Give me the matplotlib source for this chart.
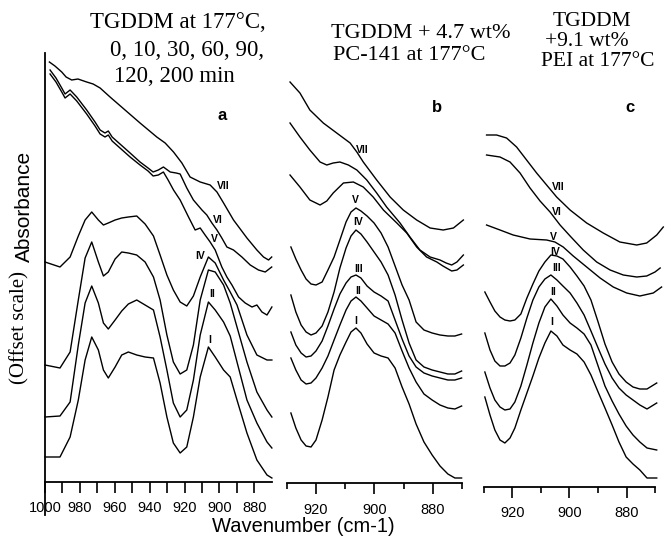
import matplotlib
matplotlib.use('Agg')
import matplotlib.pyplot as plt
from matplotlib.ticker import FixedLocator, NullFormatter

plt.rcParams['font.family'] = ['Liberation Sans', 'DejaVu Sans']

W, H = 665, 539

# ---- panel a : TGDDM at 177 C (offset absorbance) ----
a_wn = [1000.0, 991.4, 985.6, 980.9, 977.0, 973.2, 969.4, 966.5, 963.7, 959.8, 956.0,
        952.2, 947.4, 942.6, 937.8, 934.0, 930.1, 926.4, 922.5, 918.7, 914.9, 911.0,
        906.3, 902.4, 897.6, 893.8, 889.9, 884.2, 878.5, 872.7, 869.9]
a_I = [0.33, 0.33, 0.53, 0.90, 1.30, 1.53, 1.40, 1.20, 1.12, 1.23, 1.35, 1.38, 1.35, 1.33,
       1.32, 1.07, 0.73, 0.47, 0.37, 0.43, 0.73, 1.13, 1.43, 1.33, 1.20, 1.13, 0.90, 0.57,
       0.30, 0.15, 0.12]
a_II = [0.73, 0.74, 0.88, 1.45, 1.87, 2.04, 1.87, 1.67, 1.61, 1.70, 1.79, 1.86, 1.90, 1.85,
        1.80, 1.53, 1.20, 0.87, 0.73, 0.80, 1.10, 1.55, 1.88, 1.80, 1.68, 1.54, 1.28, 0.90,
        0.67, 0.48, 0.42]
a_III = [1.25, 1.22, 1.38, 1.90, 2.32, 2.48, 2.28, 2.14, 2.18, 2.31, 2.38, 2.37, 2.35, 2.28,
         2.13, 1.90, 1.55, 1.28, 1.16, 1.20, 1.45, 1.90, 2.20, 2.18, 2.05, 1.87, 1.63, 1.28,
         0.98, 0.80, 0.73]
a_IV = [2.28, 2.23, 2.33, 2.54, 2.70, 2.78, 2.70, 2.65, 2.67, 2.70, 2.72, 2.73, 2.74, 2.66,
        2.54, 2.35, 2.15, 2.00, 1.88, 1.84, 1.94, 2.13, 2.33, 2.27, 2.10, 1.98, 1.85, 1.55,
        1.35, 1.30, 1.30]

a_V_wn = [997.1, 993.7, 990.4, 988.5, 985.6, 981.8, 976.1, 971.3, 968.4, 965.6, 963.7, 961.5,
          957.0, 951.2, 945.5, 940.9, 938.0, 935.0, 932.1, 929.4, 926.3, 922.5, 917.7, 913.9,
          911.0, 908.2, 905.3, 902.4, 898.6, 895.7, 892.8, 889.0, 885.2, 881.3, 878.5, 875.6,
          872.7, 869.9]
a_V = [4.16, 4.08, 3.98, 3.92, 3.96, 3.89, 3.76, 3.64, 3.56, 3.53, 3.55, 3.49, 3.42, 3.33,
       3.25, 3.19, 3.14, 3.15, 3.18, 3.10, 3.00, 2.90, 2.73, 2.60, 2.62, 2.55, 2.48, 2.40,
       2.23, 2.13, 2.05, 1.93, 1.87, 1.83, 1.85, 1.78, 1.75, 1.83]

a_VI_wn = [997.1, 993.7, 990.4, 988.5, 985.6, 981.8, 976.1, 971.3, 968.4, 965.6, 963.7, 961.5,
           957.0, 951.2, 945.5, 940.9, 938.0, 935.0, 932.1, 928.2, 924.8, 922.5, 918.7, 914.9,
           910.0, 907.2, 904.3, 901.4, 898.6, 895.7, 891.9, 887.1, 882.3, 877.6, 873.7, 870.0]
a_VI = [4.20, 4.12, 4.02, 3.96, 4.00, 3.93, 3.80, 3.68, 3.60, 3.57, 3.59, 3.53, 3.46, 3.37,
        3.28, 3.22, 3.18, 3.20, 3.23, 3.18, 3.17, 3.16, 3.02, 2.90, 2.80, 2.75, 2.67, 2.60,
        2.52, 2.43, 2.40, 2.33, 2.25, 2.20, 2.18, 2.23]

a_VII_wn = [997.5, 994.3, 990.4, 987.9, 984.7, 981.1, 976.1, 972.4, 968.4, 962.7, 954.1, 945.5,
            935.9, 931.1, 926.3, 921.5, 916.8, 911.0, 905.3, 901.4, 897.6, 891.9, 884.2, 878.5,
            874.7, 871.8, 870.0]
a_VII = [4.28, 4.24, 4.18, 4.13, 4.10, 4.11, 4.08, 4.06, 4.02, 3.93, 3.80, 3.67, 3.53, 3.47,
         3.38, 3.27, 3.13, 3.08, 3.05, 2.98, 2.87, 2.70, 2.52, 2.40, 2.33, 2.30, 2.33]

# ---- panel b : TGDDM + 4.7 wt% PC-141 ----
b_wn = [928.6, 926.9, 925.1, 923.4, 921.7, 920.0, 917.9, 915.9, 913.8, 911.8, 909.7, 908.0,
        906.3, 904.6, 902.5, 900.1, 897.7, 895.3, 892.9, 890.5, 888.1, 885.7, 883.0, 880.2,
        877.5, 874.8, 872.4, 870.1]
b_I = [0.77, 0.62, 0.50, 0.44, 0.43, 0.50, 0.70, 0.93, 1.20, 1.35, 1.48, 1.58, 1.62, 1.57,
       1.46, 1.37, 1.34, 1.32, 1.22, 1.03, 0.86, 0.66, 0.48, 0.35, 0.24, 0.16, 0.12, 0.12]
b_II = [1.32, 1.20, 1.10, 1.06, 1.07, 1.12, 1.22, 1.34, 1.50, 1.65, 1.80, 1.89, 1.93, 1.89,
        1.82, 1.74, 1.70, 1.66, 1.57, 1.39, 1.22, 1.08, 0.96, 0.90, 0.85, 0.82, 0.81, 0.84]
b_III = [1.58, 1.45, 1.37, 1.33, 1.34, 1.39, 1.49, 1.64, 1.81, 1.96, 2.07, 2.13, 2.15, 2.12,
         2.04, 1.98, 1.94, 1.89, 1.70, 1.51, 1.34, 1.23, 1.17, 1.14, 1.12, 1.10, 1.10, 1.12]
b_IV = [1.95, 1.78, 1.65, 1.58, 1.55, 1.57, 1.64, 1.78, 1.98, 2.22, 2.42, 2.54, 2.60, 2.56,
        2.48, 2.38, 2.28, 2.15, 1.95, 1.70, 1.47, 1.30, 1.23, 1.20, 1.18, 1.16, 1.16, 1.19]
b_V = [2.43, 2.31, 2.20, 2.11, 2.06, 2.05, 2.08, 2.20, 2.33, 2.50, 2.68, 2.78, 2.82, 2.79,
       2.74, 2.67, 2.57, 2.43, 2.24, 2.05, 1.90, 1.68, 1.60, 1.57, 1.55, 1.54, 1.54, 1.56]

b_X_wn = [928.9, 925.5, 922.1, 918.6, 916.3, 914.1, 910.6, 907.2, 903.8, 900.4, 896.9, 892.3,
          888.9, 885.5, 882.1, 878.6, 876.5, 873.5, 871.7, 869.5]
b_X = [3.15, 3.03, 2.90, 2.85, 2.89, 2.97, 3.07, 3.08, 3.03, 2.93, 2.80, 2.67, 2.57, 2.43,
       2.33, 2.28, 2.24, 2.19, 2.20, 2.25]

b_VI_wn = [928.9, 925.5, 922.1, 918.6, 916.3, 914.1, 911.8, 908.9, 906.0, 902.6, 899.2, 895.8,
           891.2, 887.8, 884.4, 880.9, 877.5, 875.4, 873.5, 871.7, 869.5]
b_VI = [3.67, 3.53, 3.40, 3.28, 3.25, 3.27, 3.28, 3.25, 3.20, 3.10, 2.97, 2.83, 2.67, 2.53,
        2.40, 2.33, 2.30, 2.27, 2.25, 2.28, 2.35]

b_VII_wn = [928.9, 925.5, 922.1, 917.5, 912.9, 908.3, 906.0, 903.8, 899.2, 894.6, 890.1, 885.5,
            880.9, 876.4, 872.9, 869.5]
b_VII = [4.08, 3.97, 3.80, 3.67, 3.57, 3.47, 3.38, 3.28, 3.10, 2.93, 2.80, 2.70, 2.62, 2.60,
         2.62, 2.70]

# ---- panel c : TGDDM + 9.1 wt% PEI ----
c_wn = [929.6, 927.8, 926.1, 924.3, 922.6, 920.8, 919.1, 917.0, 914.9, 912.8, 910.7, 908.6,
        906.5, 904.4, 902.3, 899.8, 897.4, 894.9, 892.5, 890.0, 887.6, 885.1, 882.7, 880.2,
        877.8, 875.4, 872.9, 869.5]
c_I = [0.93, 0.75, 0.60, 0.50, 0.47, 0.52, 0.62, 0.80, 0.97, 1.14, 1.32, 1.47, 1.59, 1.54,
       1.45, 1.40, 1.36, 1.28, 1.15, 0.98, 0.82, 0.65, 0.48, 0.33, 0.26, 0.20, 0.12, 0.12]
c_II = [1.18, 1.02, 0.90, 0.83, 0.80, 0.81, 0.88, 1.04, 1.25, 1.47, 1.67, 1.83, 1.91, 1.84,
        1.75, 1.67, 1.62, 1.56, 1.45, 1.24, 1.04, 0.89, 0.76, 0.64, 0.55, 0.48, 0.42, 0.40]
c_III = [1.57, 1.40, 1.29, 1.24, 1.24, 1.27, 1.35, 1.52, 1.72, 1.90, 2.03, 2.11, 2.15, 2.10,
         2.04, 1.97, 1.87, 1.75, 1.59, 1.42, 1.26, 1.12, 1.02, 0.95, 0.90, 0.85, 0.81, 0.87]
c_IV = [1.98, 1.88, 1.79, 1.73, 1.70, 1.69, 1.70, 1.76, 1.92, 2.06, 2.19, 2.28, 2.35, 2.34,
        2.31, 2.23, 2.14, 2.04, 1.90, 1.68, 1.46, 1.28, 1.16, 1.08, 1.03, 1.01, 1.01, 1.07]

c_V_wn = [929.0, 924.3, 919.7, 913.8, 908.0, 905.1, 902.2, 898.7, 894.0, 889.3, 884.7, 880.0,
          875.4, 870.7, 867.8]
c_V = [2.65, 2.60, 2.55, 2.51, 2.50, 2.48, 2.43, 2.34, 2.23, 2.12, 2.03, 1.97, 1.94, 1.97, 2.03]

c_VI_wn = [929.0, 924.3, 920.8, 917.3, 913.8, 910.3, 906.8, 903.3, 899.8, 895.2, 890.5, 885.8,
           881.2, 876.5, 873.0, 870.1, 868.3]
c_VI = [3.35, 3.33, 3.28, 3.17, 3.02, 2.89, 2.78, 2.65, 2.54, 2.40, 2.28, 2.20, 2.15, 2.13,
        2.14, 2.18, 2.22]

c_VII_wn = [929.0, 925.5, 922.0, 918.5, 915.0, 911.5, 908.0, 904.5, 899.8, 894.0, 888.2, 882.4,
            876.5, 873.0, 869.5, 867.2]
c_VII = [3.55, 3.55, 3.52, 3.43, 3.30, 3.17, 3.05, 2.93, 2.80, 2.67, 2.57, 2.48, 2.45, 2.47,
         2.55, 2.63]

# curve labels (numeral, wavenumber, offset absorbance)
a_labels = [('VII', 897.8, 3.04), ('VI', 900.7, 2.70), ('V', 903.0, 2.51), ('IV', 911.0, 2.34),
            ('II', 904.0, 1.96), ('I', 905.6, 1.50)]
b_labels = [('VII', 904.3, 3.40), ('V', 906.4, 2.90), ('IV', 905.5, 2.68), ('III', 905.5, 2.21),
            ('II', 905.5, 1.99), ('I', 906.3, 1.69)]
c_labels = [('VII', 903.9, 3.03), ('VI', 904.4, 2.78), ('V', 905.7, 2.53), ('IV', 905.1, 2.38),
            ('III', 904.5, 2.22), ('II', 905.7, 1.98), ('I', 906.2, 1.68)]


def add_panel(fig, left, right, bottom, top=40):
    ax = fig.add_axes([left / W, (H - bottom) / H, (right - left) / W, (bottom - top) / H])
    ax.set_facecolor('none')
    for s in ['top', 'right', 'left']:
        ax.spines[s].set_visible(False)
    ax.spines['bottom'].set_linewidth(1.3)
    ax.set_yticks([])
    ax.set_ylim((490 - bottom) / 100, (490 - top) / 100)
    return ax


def draw(ax, xs, ys):
    ax.plot(xs, ys, color='black', lw=1.0, clip_on=False, solid_joinstyle='round')


def numerals(ax, labels):
    for txt, x, y in labels:
        ax.text(x, y, txt, ha='center', va='center', fontsize=7.5, fontweight='bold')


fig = plt.figure(figsize=(W / 100, H / 100), dpi=100)

# panel a
ax_a = add_panel(fig, 45, 271.7, 482)
ax_a.set_xlim(1000, 870)
for xs, ys in [(a_wn, a_I), (a_wn, a_II), (a_wn, a_III), (a_wn, a_IV),
               (a_V_wn, a_V), (a_VI_wn, a_VI), (a_VII_wn, a_VII)]:
    draw(ax_a, xs, ys)
numerals(ax_a, a_labels)
ax_a.spines['left'].set_visible(True)
ax_a.spines['left'].set_linewidth(1.3)
ax_a.spines['left'].set_bounds((490 - 482) / 100, (490 - 53) / 100)
ax_a.plot([0, 0], [-0.075, 0], transform=ax_a.transAxes, color='black', lw=1.3, clip_on=False)
ax_a.xaxis.set_major_locator(FixedLocator([1000, 980, 960, 940, 920, 900, 880]))
ax_a.xaxis.set_minor_locator(FixedLocator([990, 970, 950, 930, 910, 890]))
ax_a.tick_params(axis='x', which='both', direction='out', length=8, width=1.2, pad=6,
                 labelsize=10.5)

# panel b
ax_b = add_panel(fig, 286.8, 461.9, 483.3)
ax_b.set_xlim(930, 870)
for xs, ys in [(b_wn, b_I), (b_wn, b_II), (b_wn, b_III), (b_wn, b_IV), (b_wn, b_V),
               (b_X_wn, b_X), (b_VI_wn, b_VI), (b_VII_wn, b_VII)]:
    draw(ax_b, xs, ys)
numerals(ax_b, b_labels)

# panel c
ax_c = add_panel(fig, 483.7, 655.3, 486.7)
ax_c.set_xlim(930, 870)
for xs, ys in [(c_wn, c_I), (c_wn, c_II), (c_wn, c_III), (c_wn, c_IV),
               (c_V_wn, c_V), (c_VI_wn, c_VI), (c_VII_wn, c_VII)]:
    draw(ax_c, xs, ys)
numerals(ax_c, c_labels)

for ax in (ax_b, ax_c):
    ax.xaxis.set_major_locator(FixedLocator([920, 900, 880]))
    ax.xaxis.set_minor_locator(FixedLocator([930, 910, 890, 870]))
    ax.xaxis.set_minor_formatter(NullFormatter())
    ax.tick_params(axis='x', which='major', direction='out', length=8, width=1.2, pad=6,
                   labelsize=10.5)
    ax.tick_params(axis='x', which='minor', direction='out', length=4, width=1.2)


def px(x, y):
    return x / W, 1 - y / H


serif = 'Liberation Serif'
fig.text(*px(90, 23), 'TGDDM at 177°C,', family=serif, fontsize=16.5, va='center')
fig.text(*px(110, 50), '0, 10, 30, 60, 90,', family=serif, fontsize=16.5, va='center')
fig.text(*px(114, 76), '120, 200 min', family=serif, fontsize=16.5, va='center')

fig.text(*px(331, 33), 'TGDDM + 4.7 wt%', family=serif, fontsize=16, va='center')
fig.text(*px(333, 55), 'PC-141 at 177°C', family=serif, fontsize=16, va='center')

fig.text(*px(592, 21), 'TGDDM', family=serif, fontsize=15.5, va='center', ha='center')
fig.text(*px(545, 41), '+9.1 wt%', family=serif, fontsize=15.5, va='center')
fig.text(*px(541, 61), 'PEI at 177°C', family=serif, fontsize=15.5, va='center')

fig.text(*px(222, 115), 'a', fontsize=12, fontweight='bold', ha='center', va='center')
fig.text(*px(437, 107), 'b', fontsize=12, fontweight='bold', ha='center', va='center')
fig.text(*px(630, 107), 'c', fontsize=12, fontweight='bold', ha='center', va='center')

fig.text(*px(24, 206), 'Absorbance', fontsize=15, rotation=90, ha='center', va='center')
fig.text(*px(20, 327), '(Offset scale)', family=serif, fontsize=15, rotation=90,
         ha='center', va='center')
fig.text(*px(303, 527), 'Wavenumber (cm-1)', fontsize=14.5, ha='center', va='center')

fig.savefig('out.png', dpi=100)
